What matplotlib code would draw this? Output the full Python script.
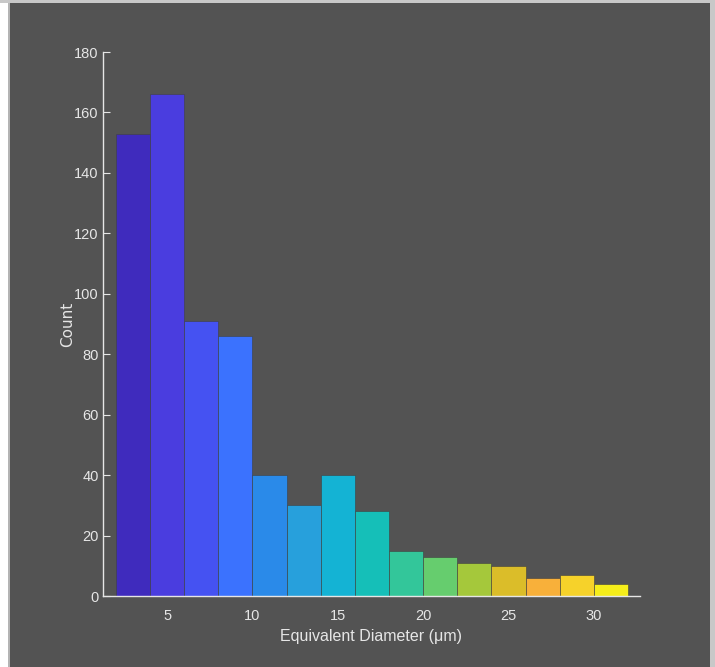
import numpy as np
import matplotlib.pyplot as plt
from matplotlib.patches import Rectangle

# Histogram of equivalent diameters (bin edges 2..32, width 2)
bin_edges = [2, 4, 6, 8, 10, 12, 14, 16, 18, 20, 22, 24, 26, 28, 30, 32]
counts = [153, 166, 91, 86, 40, 30, 40, 28, 15, 13, 11, 10, 6, 7, 4]
bar_colors = ['#3f2bbd', '#4a3ddf', '#4552f2', '#3b72fe', '#2a8ae9',
              '#27a0dc', '#14b3d4', '#15bfb8', '#33c69a', '#66cd6e',
              '#a5c83b', '#dbbd29', '#f8b03a', '#f6d22a', '#f6ee1a']
x_ticks = [5, 10, 15, 20, 25, 30]
y_ticks = [0, 20, 40, 60, 80, 100, 120, 140, 160, 180]

bg = '#535353'
fg = '#e6e6e6'
plt.rcParams['font.family'] = ['Liberation Sans', 'DejaVu Sans']

fig = plt.figure(figsize=(7.15, 6.67), dpi=100, facecolor=bg)

# light frame around the figure (left, top, right)
fig.patches.append(Rectangle((0, 0), 8 / 715, 1, transform=fig.transFigure,
                             facecolor='white', edgecolor='none', zorder=-1))
fig.patches.append(Rectangle((8 / 715, 0), 2 / 715, 1, transform=fig.transFigure,
                             facecolor='#b4b4b4', edgecolor='none', zorder=-1))
fig.patches.append(Rectangle((0, 1 - 3 / 667), 1, 3 / 667, transform=fig.transFigure,
                             facecolor='#c8c8c8', edgecolor='none', zorder=-1))
fig.patches.append(Rectangle((1 - 5 / 715, 0), 5 / 715, 1, transform=fig.transFigure,
                             facecolor='#c8c8c8', edgecolor='none', zorder=-1))

ax = fig.add_axes([103 / 715, 71 / 667, 537 / 715, 544 / 667])
ax.set_facecolor(bg)

lefts = np.array(bin_edges[:-1])
widths = np.diff(bin_edges)
ax.bar(lefts, counts, width=widths, align='edge', color=bar_colors,
       edgecolor='#404040', linewidth=0.4)

ax.set_xlim(1.25, 32.7)
ax.set_ylim(0, 180)
ax.set_xticks(x_ticks)
ax.set_yticks(y_ticks)

for s in ['top', 'right']:
    ax.spines[s].set_visible(False)
for s in ['left', 'bottom']:
    ax.spines[s].set_color(fg)
    ax.spines[s].set_linewidth(1.0)

ax.tick_params(axis='y', direction='in', length=5, color=fg, labelcolor=fg,
               labelsize=10.5, pad=3)
ax.tick_params(axis='x', direction='in', length=0, color=fg, labelcolor=fg,
               labelsize=10.5, pad=9)

ax.set_xlabel('Equivalent Diameter (μm)', color=fg, fontsize=11.5, labelpad=5)
ax.set_ylabel('Count', color=fg, fontsize=11, family='DejaVu Sans', labelpad=-1)

plt.savefig('out.png', dpi=100, facecolor=bg)
